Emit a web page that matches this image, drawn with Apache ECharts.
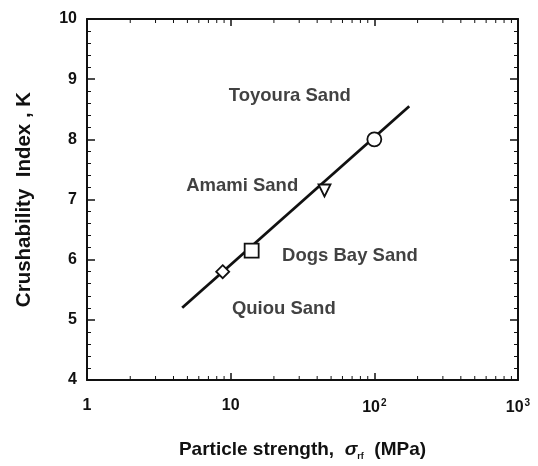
<!DOCTYPE html>
<html>
<head>
<meta charset="utf-8" />
<title>Crushability index vs particle strength</title>
<script src="https://cdn.jsdelivr.net/npm/echarts@6/dist/echarts.min.js"></script>
<style>
  html, body { margin: 0; padding: 0; background: #fff; }
  #main { width: 538px; height: 466px; }
</style>
</head>
<body>
<div id="main"></div>
<script>
// fitted line, two ends
var lineX = [4.6, 175]
var lineY = [5.2, 8.55]
// measured sands
var sandNames = ['Quiou Sand', 'Dogs Bay Sand', 'Amami Sand', 'Toyoura Sand']
var sandX = [8.8, 14, 45, 100]
var sandY = [5.8, 6.15, 7.15, 8.0]
var sandSymbols = ['diamond', 'rect', 'triangle', 'circle']
// where the sand names sit (left end of text, data coords)
var labelX = [10.2, 22.8, 4.9, 9.7]
var labelY = [5.18, 6.06, 7.22, 8.72]
// axes
var xTickLabels = { 1: '1', 10: '10', 100: '10{sup|2}', 1000: '10{sup|3}' }
var xMinorTicks = [2, 3, 4, 5, 6, 7, 8, 9, 20, 30, 40, 50, 60, 70, 80, 90, 200, 300, 400, 500, 600, 700, 800, 900]
var yMin = 4, yMax = 10

var font = 'Liberation Sans'
var ink = '#111'

var symbolSizes = { diamond: 13, rect: 14, triangle: 12, circle: 14 }

var pointData = sandX.map(function (x, i) {
  var s = sandSymbols[i]
  return {
    value: [x, sandY[i]],
    symbol: s,
    symbolSize: symbolSizes[s],
    symbolRotate: s === 'triangle' ? 180 : 0
  }
})

var labelData = labelX.map(function (x, i) {
  return { value: [x, labelY[i]], name: sandNames[i] }
})

var myChart = echarts.init(document.getElementById('main'))
var option = {
  backgroundColor: '#fff',
  animation: false,
  grid: { left: 87, right: 20, top: 19, bottom: 82 },
  xAxis: [
    {
      type: 'log',
      logBase: 10,
      min: 1,
      max: 1000,
      name: 'Particle strength,  {i|σ}{sub|rf}  (MPa)',
      nameLocation: 'middle',
      nameGap: 58,
      nameTextStyle: {
        fontFamily: font, fontSize: 19, fontWeight: 'bold', color: ink,
        rich: {
          i: { fontFamily: font, fontSize: 19, fontStyle: 'italic', fontWeight: 'bold', color: ink },
          sub: { fontFamily: font, fontSize: 9, fontWeight: 'bold', color: ink, padding: [14, 0, 0, 0] }
        }
      },
      axisLine: { lineStyle: { color: ink, width: 2 } },
      axisTick: { inside: true, length: 7, lineStyle: { color: ink, width: 1.5 } },
      splitLine: { show: false },
      axisLabel: {
        margin: 18,
        fontFamily: font, fontSize: 16, fontWeight: 'bold', color: ink,
        formatter: function (v) { return xTickLabels[Math.round(v)] || '' },
        rich: {
          sup: { fontFamily: font, fontSize: 10, fontWeight: 'bold', color: ink, padding: [0, 0, 10, 1] }
        }
      }
    },
    {
      type: 'log',
      logBase: 10,
      min: 1,
      max: 1000,
      position: 'top',
      axisLine: { lineStyle: { color: ink, width: 2 } },
      axisTick: { inside: true, length: 7, lineStyle: { color: ink, width: 1.5 } },
      axisLabel: { show: false },
      splitLine: { show: false }
    }
  ],
  yAxis: [
    {
      type: 'value',
      min: yMin,
      max: yMax,
      interval: 1,
      name: 'Crushability  Index , K',
      nameLocation: 'middle',
      nameGap: 52,
      nameTextStyle: { fontFamily: font, fontSize: 20.5, fontWeight: 'bold', color: ink },
      axisLine: { show: true, lineStyle: { color: ink, width: 2 } },
      axisTick: { inside: true, length: 8, lineStyle: { color: ink, width: 1.5 } },
      minorTick: { show: true, splitNumber: 5, length: 4, lineStyle: { color: ink, width: 1 } },
      splitLine: { show: false },
      axisLabel: { margin: 10, fontFamily: font, fontSize: 16, fontWeight: 'bold', color: ink }
    },
    {
      type: 'value',
      min: yMin,
      max: yMax,
      interval: 1,
      position: 'right',
      axisLine: { show: true, lineStyle: { color: ink, width: 2 } },
      axisTick: { inside: true, length: 8, lineStyle: { color: ink, width: 1.5 } },
      minorTick: { show: true, splitNumber: 5, length: 4, lineStyle: { color: ink, width: 1 } },
      splitLine: { show: false },
      axisLabel: { show: false }
    }
  ],
  series: [
    {
      // log minor ticks on bottom and top edges
      type: 'custom',
      silent: true,
      data: xMinorTicks,
      renderItem: function (params, api) {
        var v = api.value(0)
        var b = api.coord([v, yMin])
        var t = api.coord([v, yMax])
        var st = { stroke: ink, lineWidth: 1 }
        return {
          type: 'group',
          children: [
            { type: 'line', shape: { x1: b[0], y1: b[1], x2: b[0], y2: b[1] - 4 }, style: st },
            { type: 'line', shape: { x1: t[0], y1: t[1], x2: t[0], y2: t[1] + 4 }, style: st }
          ]
        }
      },
      encode: { x: 0 },
      z: 3
    },
    {
      type: 'line',
      data: lineX.map(function (x, i) { return [x, lineY[i]] }),
      showSymbol: false,
      lineStyle: { color: ink, width: 2.8 },
      z: 4
    },
    {
      type: 'scatter',
      data: pointData,
      itemStyle: { color: '#fff', borderColor: ink, borderWidth: 1.8, opacity: 1 },
      z: 5
    },
    {
      type: 'scatter',
      data: labelData,
      symbolSize: 0,
      silent: true,
      label: {
        show: true,
        position: [0, 0],
        align: 'left',
        verticalAlign: 'middle',
        formatter: '{b}',
        fontFamily: font,
        fontSize: 18.5,
        fontWeight: 'bold',
        color: ink
      },
      z: 6
    }
  ]
}
myChart.setOption(option)
</script>
</body>
</html>
